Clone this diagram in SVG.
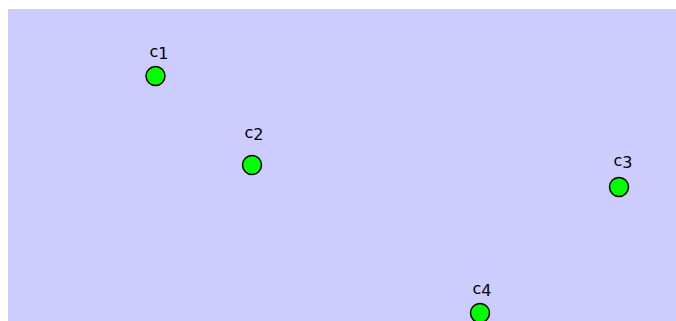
<svg xmlns="http://www.w3.org/2000/svg" width="676" height="321" viewBox="0 0 676 321">
<style>
.bg{fill:#ccccff}
.n{fill:#00ff00;stroke:#000000;stroke-width:1.5}
.t{font-family:"DejaVu Sans",sans-serif;font-size:16px;fill:#000000;text-anchor:middle}
</style>
<rect class="bg" x="8" y="9" width="668" height="312"/>
<g id="connectors"></g>
<g id="c1"><text class="t" x="159" y="57">c<tspan dy="2">1</tspan></text><circle class="n" cx="155.5" cy="76" r="9.5"/></g>
<g id="c2"><text class="t" x="254" y="138">c<tspan dy="2">2</tspan></text><circle class="n" cx="252" cy="165" r="9.5"/></g>
<g id="c3"><text class="t" x="623" y="166">c<tspan dy="2">3</tspan></text><circle class="n" cx="619" cy="187" r="9.5"/></g>
<g id="c4"><text class="t" x="482" y="294">c<tspan dy="2">4</tspan></text><circle class="n" cx="480" cy="313" r="9.5"/></g>
</svg>
